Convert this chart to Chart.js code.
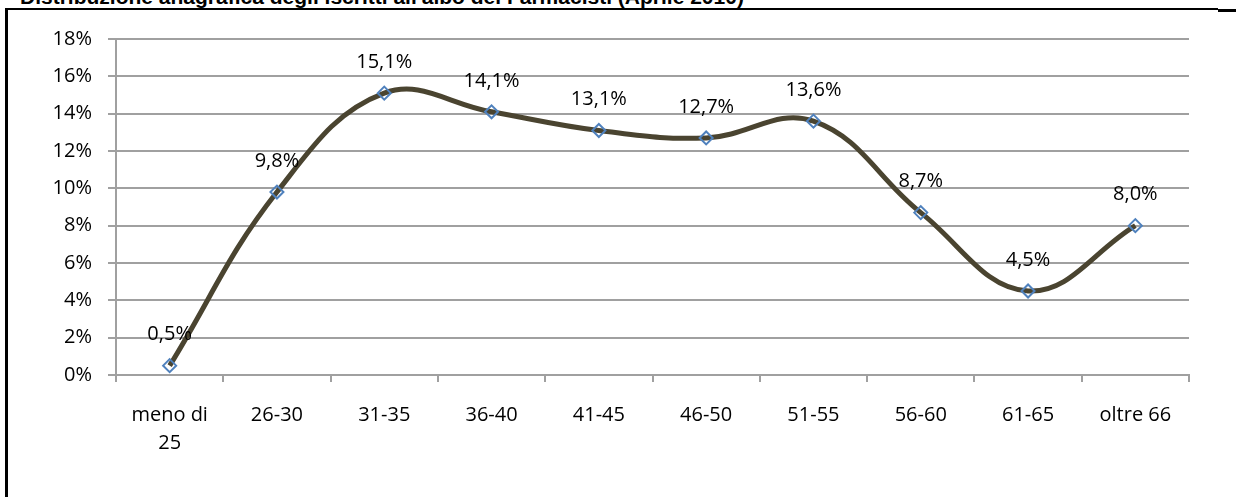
<!DOCTYPE html>
<html>
<head>
<meta charset="utf-8">
<script src="https://cdn.jsdelivr.net/npm/chart.js@4/dist/chart.umd.min.js"></script>
<style>
  html, body { margin: 0; padding: 0; background: #fff; overflow: hidden; }
  #wrap { position: relative; width: 1236px; height: 497px; }
  #title {
    position: absolute; left: 20px; top: -14px;
    font: bold 21px "Liberation Sans", Arial, sans-serif;
    line-height: 21px; white-space: nowrap; color: #000;
  }
  .edge { position: absolute; background: #000; }
  canvas { position: absolute; left: 0; top: 0; }
</style>
</head>
<body>
<div id="wrap">
  <div id="title">Distribuzione anagrafica degli iscritti all'albo dei Farmacisti (Aprile 2010)</div>
  <div class="edge" style="left:5px;top:8px;width:1213px;height:2px"></div>
  <div class="edge" style="left:1218px;top:9px;width:18px;height:3px"></div>
  <div class="edge" style="left:5px;top:8px;width:3px;height:489px"></div>
  <canvas id="chart" width="1236" height="497"></canvas>
</div>
<script>
// fasce d'età
const ageGroups = [['meno di', '25'], '26-30', '31-35', '36-40', '41-45', '46-50', '51-55', '56-60', '61-65', 'oltre 66']
// quota di iscritti per fascia (%)
const shares = [0.5, 9.8, 15.1, 14.1, 13.1, 12.7, 13.6, 8.7, 4.5, 8.0]
const yTicks = [0, 2, 4, 6, 8, 10, 12, 14, 16, 18]

const fontFamily = '"Open Sans", "Liberation Sans", sans-serif'
const gridGray = '#a0a0a0'

const pctLabel = v => v.toFixed(1).replace('.', ',') + '%'

const valueLabels = {
  id: 'valueLabels',
  afterDatasetsDraw (chart) {
    const ctx = chart.ctx
    const meta = chart.getDatasetMeta(0)
    ctx.save()
    ctx.font = '20px ' + fontFamily
    ctx.fillStyle = '#000'
    ctx.textAlign = 'center'
    ctx.textBaseline = 'middle'
    meta.data.forEach((pt, i) => {
      ctx.fillText(pctLabel(shares[i]), pt.x, pt.y - 31)
    })
    ctx.restore()
  }
}

new Chart(document.getElementById('chart').getContext('2d'), {
  type: 'line',
  data: {
    labels: ageGroups,
    datasets: [{
      data: shares,
      borderColor: '#4a4430',
      borderWidth: 5,
      tension: 0.4,
      fill: false,
      clip: false,
      pointStyle: 'rectRot',
      pointRadius: 6.5,
      pointBorderColor: '#4f81bd',
      pointBorderWidth: 2,
      pointBackgroundColor: 'rgba(0,0,0,0)'
    }]
  },
  options: {
    responsive: false,
    animation: false,
    layout: { padding: { left: 16, top: 39, right: 47, bottom: 22 } },
    plugins: {
      legend: { display: false },
      tooltip: { enabled: false }
    },
    scales: {
      x: {
        offset: true,
        afterFit (scale) { scale.height = 100 },
        grid: {
          offset: true,
          drawOnChartArea: false,
          drawTicks: true,
          tickLength: 7,
          color: gridGray,
          lineWidth: 2
        },
        border: { color: gridGray, width: 2 },
        ticks: {
          color: '#000',
          padding: 19,
          maxRotation: 0,
          font: { family: fontFamily, size: 20, lineHeight: 1.4 }
        }
      },
      y: {
        min: 0,
        max: 18,
        afterFit (scale) { scale.width = 100 },
        afterBuildTicks (scale) { scale.ticks = yTicks.map(v => ({ value: v })) },
        grid: {
          color: gridGray,
          lineWidth: 2,
          drawTicks: true,
          tickLength: 8
        },
        border: { color: gridGray, width: 2 },
        ticks: {
          color: '#000',
          padding: 16,
          font: { family: fontFamily, size: 20 },
          callback: v => v + '%'
        }
      }
    }
  },
  plugins: [valueLabels]
})
</script>
</body>
</html>
